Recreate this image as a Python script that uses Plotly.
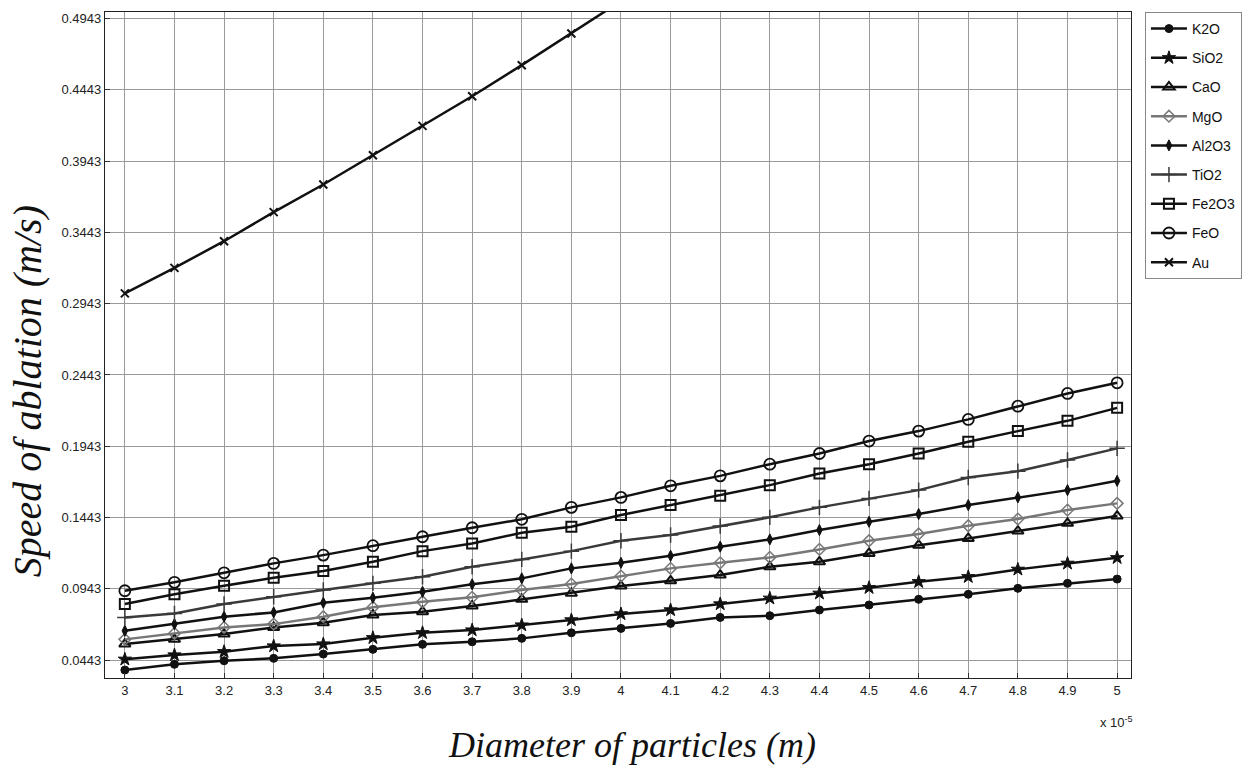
import plotly.graph_objects as go

diameters = [3.0, 3.1, 3.2, 3.3, 3.4, 3.5, 3.6, 3.7, 3.8, 3.9, 4.0,
             4.1, 4.2, 4.3, 4.4, 4.5, 4.6, 4.7, 4.8, 4.9, 5.0]

k2o = [0.0373, 0.0413, 0.0438, 0.0455, 0.0485, 0.0518, 0.0553, 0.0571, 0.0595, 0.0634, 0.0665,
       0.0700, 0.0742, 0.0754, 0.0794, 0.0829, 0.0869, 0.0904, 0.0946, 0.0981, 0.1011]
sio2 = [0.0448, 0.0478, 0.0501, 0.0541, 0.0555, 0.0599, 0.0634, 0.0653, 0.0688, 0.0724, 0.0766,
        0.0794, 0.0836, 0.0876, 0.0911, 0.0950, 0.0992, 0.1027, 0.1079, 0.1121, 0.1160]
cao = [0.0555, 0.0588, 0.0625, 0.0672, 0.0705, 0.0759, 0.0782, 0.0822, 0.0869, 0.0911, 0.0962,
       0.0999, 0.1039, 0.1097, 0.1132, 0.1191, 0.1249, 0.1296, 0.1348, 0.1402, 0.1453]
mgo = [0.0588, 0.0630, 0.0672, 0.0695, 0.0747, 0.0813, 0.0852, 0.0883, 0.0934, 0.0976, 0.1032,
       0.1086, 0.1125, 0.1163, 0.1219, 0.1280, 0.1327, 0.1385, 0.1432, 0.1495, 0.1542]
al2o3 = [0.0648, 0.0695, 0.0747, 0.0777, 0.0845, 0.0880, 0.0922, 0.0974, 0.1016, 0.1086, 0.1125,
         0.1174, 0.1238, 0.1289, 0.1355, 0.1413, 0.1467, 0.1530, 0.1584, 0.1635, 0.1700]
tio2 = [0.0742, 0.0770, 0.0836, 0.0887, 0.0934, 0.0981, 0.1027, 0.1097, 0.1149, 0.1207, 0.1280,
        0.1320, 0.1383, 0.1444, 0.1514, 0.1577, 0.1635, 0.1724, 0.1768, 0.1846, 0.1928]
fe2o3 = [0.0836, 0.0904, 0.0964, 0.1020, 0.1067, 0.1132, 0.1207, 0.1261, 0.1336, 0.1378, 0.1460,
         0.1530, 0.1595, 0.1670, 0.1752, 0.1817, 0.1892, 0.1974, 0.2049, 0.2121, 0.2212]
feo = [0.0929, 0.0988, 0.1055, 0.1121, 0.1179, 0.1245, 0.1308, 0.1371, 0.1430, 0.1514, 0.1584,
       0.1665, 0.1735, 0.1817, 0.1892, 0.1979, 0.2049, 0.2131, 0.2224, 0.2313, 0.2388]
au_diameters = [3.0, 3.1, 3.2, 3.3, 3.4, 3.5, 3.6, 3.7, 3.8, 3.9, 4.0, 4.1]
au = [0.3015, 0.3194, 0.3381, 0.3585, 0.3779, 0.3984, 0.4190, 0.4398, 0.4616, 0.4838, 0.5060, 0.5290]

x_tick_vals = diameters
x_tick_text = ["3", "3.1", "3.2", "3.3", "3.4", "3.5", "3.6", "3.7", "3.8", "3.9", "4",
               "4.1", "4.2", "4.3", "4.4", "4.5", "4.6", "4.7", "4.8", "4.9", "5"]
y_tick_vals = [0.0443, 0.0943, 0.1443, 0.1943, 0.2443, 0.2943, 0.3443, 0.3943, 0.4443, 0.4943]
y_tick_text = ["0.0443", "0.0943", "0.1443", "0.1943", "0.2443", "0.2943", "0.3443", "0.3943", "0.4443", "0.4943"]

series = [
    ("K2O", diameters, k2o, "circle", 8, "#111111", 1),
    ("SiO2", diameters, sio2, "star", 10, "#111111", 1),
    ("CaO", diameters, cao, "triangle-up-open", 10, "#111111", 2),
    ("MgO", diameters, mgo, "diamond-open", 9, "#777777", 1.5),
    ("Al2O3", diameters, al2o3, "diamond-tall", 8, "#111111", 1),
    ("TiO2", diameters, tio2, "cross-thin-open", 11, "#3a3a3a", 1.5),
    ("Fe2O3", diameters, fe2o3, "square-open", 10, "#111111", 2),
    ("FeO", diameters, feo, "circle-open", 11, "#111111", 1.8),
    ("Au", au_diameters, au, "x-thin-open", 8, "#111111", 2),
]

fig = go.Figure()
for i, (name, xs, ys, sym, sz, col, mlw) in enumerate(series):
    fig.add_trace(go.Scatter(
        x=xs, y=ys, name=name, mode="lines+markers",
        legendgroup=f"g{i}",
        line=dict(color=col, width=2.5),
        marker=dict(symbol=sym, size=sz, color=col, line=dict(color=col, width=mlw)),
        cliponaxis=True,
    ))

axis_common = dict(
    showline=True, linecolor="#222222", linewidth=1.2, mirror=True,
    showgrid=True, gridcolor="#9a9a9a", gridwidth=1,
    ticks="inside", ticklen=5, tickcolor="#333333",
    tickfont=dict(family="Arial, Liberation Sans, sans-serif", size=13, color="#222222"),
    zeroline=False,
)

fig.update_xaxes(range=[2.96, 5.028], tickvals=x_tick_vals, ticktext=x_tick_text, **axis_common)
fig.update_yaxes(range=[0.0317, 0.4989], tickvals=y_tick_vals, ticktext=y_tick_text, **axis_common)

title_font = "Liberation Serif, Times New Roman, serif"
fig.add_annotation(
    x=0.514, y=-0.1006, xref="paper", yref="paper", xanchor="center", yanchor="middle",
    showarrow=False, text="<i>Diameter of particles (m)</i>",
    font=dict(family=title_font, size=36, color="#111111"),
)
fig.add_annotation(
    x=-0.0748, y=0.431, xref="paper", yref="paper", xanchor="center", yanchor="middle",
    showarrow=False, textangle=-90, text="<i>Speed of ablation (m/s)</i>",
    font=dict(family=title_font, size=40, color="#111111"),
)
fig.add_annotation(
    x=1.0, y=0, xref="paper", yref="paper", xanchor="right", yanchor="top",
    yshift=-34, xshift=4, showarrow=False,
    text="x 10<sup>-5</sup>",
    font=dict(family="Arial, Liberation Sans, sans-serif", size=13, color="#222222"),
)

fig.update_layout(
    width=1254, height=771,
    margin=dict(l=105, r=120, t=12, b=93),
    paper_bgcolor="white", plot_bgcolor="white",
    legend=dict(
        x=1.0136, y=1.0, xanchor="left", yanchor="top",
        bordercolor="#888888", borderwidth=1, bgcolor="white",
        font=dict(family="Arial, Liberation Sans, sans-serif", size=14, color="#111111"),
        tracegroupgap=8, itemwidth=36,
    ),
    showlegend=True,
)

fig.write_html("out.html")
